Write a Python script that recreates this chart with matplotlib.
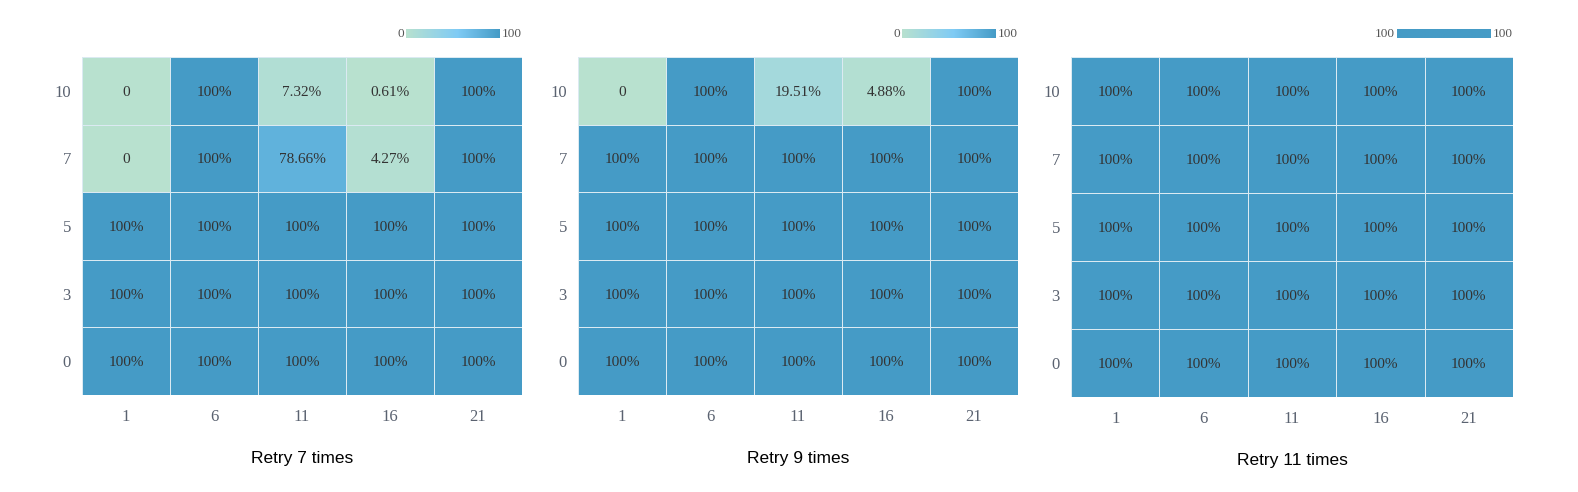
import numpy as np
import matplotlib
matplotlib.use("Agg")
import matplotlib.pyplot as plt
from matplotlib.colors import LinearSegmentedColormap, Normalize

X_LABELS = ["1", "6", "11", "16", "21"]
Y_LABELS = ["10", "7", "5", "3", "0"]  # top to bottom
TITLES = ["Retry 7 times", "Retry 9 times", "Retry 11 times"]

RETRY7 = [
    [0, 100, 7.32, 0.61, 100],
    [0, 100, 78.66, 4.27, 100],
    [100, 100, 100, 100, 100],
    [100, 100, 100, 100, 100],
    [100, 100, 100, 100, 100],
]
RETRY9 = [
    [0, 100, 19.51, 4.88, 100],
    [100, 100, 100, 100, 100],
    [100, 100, 100, 100, 100],
    [100, 100, 100, 100, 100],
    [100, 100, 100, 100, 100],
]
RETRY11 = [
    [100, 100, 100, 100, 100],
    [100, 100, 100, 100, 100],
    [100, 100, 100, 100, 100],
    [100, 100, 100, 100, 100],
    [100, 100, 100, 100, 100],
]
PANELS = [RETRY7, RETRY9, RETRY11]

cmap = LinearSegmentedColormap.from_list(
    "retry", [(0.0, "#b8e1cf"), (0.55, "#7fcbf5"), (1.0, "#459bc6")]
)
norm = Normalize(vmin=0, vmax=100)

SERIF = ["Liberation Serif", "DejaVu Serif"]
TICK_COLOR = "#5a6270"


def fmt(v):
    if v == 0:
        return "0"
    return f"{v:g}%"


fig = plt.figure(figsize=(15.78, 4.92), dpi=100)
W, H = 1578, 492
# pixel boxes: left, right, top, bottom
boxes = [(82, 522, 57, 395), (578, 1018, 57, 395), (1071, 1513, 57, 397)]

for data, title, (l, r, t, b) in zip(PANELS, TITLES, boxes):
    arr = np.array(data, dtype=float)
    ax = fig.add_axes([l / W, 1 - b / H, (r - l) / W, (b - t) / H])
    ax.pcolormesh(arr[::-1], cmap=cmap, norm=norm, edgecolors="#dbeaf2", linewidth=0.5)
    ax.set_xlim(0, arr.shape[1])
    ax.set_ylim(0, arr.shape[0])
    for i in range(arr.shape[0]):
        for j in range(arr.shape[1]):
            ax.text(j + 0.5, arr.shape[0] - 1 - i + 0.5, fmt(arr[i, j]),
                    ha="center", va="center_baseline", fontsize=11, color="#333333", family=SERIF)
    ax.set_xticks(np.arange(arr.shape[1]) + 0.5)
    ax.set_xticklabels(X_LABELS, family=SERIF, fontsize=12, color=TICK_COLOR)
    ax.set_yticks(np.arange(arr.shape[0]) + 0.5)
    ax.set_yticklabels(Y_LABELS[::-1], family=SERIF, fontsize=12, color=TICK_COLOR)
    ax.tick_params(axis="y", length=0, pad=8)
    ax.tick_params(axis="x", length=0, pad=10)
    for s in ax.spines.values():
        s.set_visible(False)
    ax.set_xlabel(title, fontsize=12.5, family=["Liberation Sans", "DejaVu Sans"], labelpad=19)

    # small colorbar above the heatmap
    lo, hi = arr.min(), arr.max()
    cax = fig.add_axes([(r - 116) / W, 1 - 38 / H, 94 / W, 9 / H])
    grad = np.linspace(lo, hi, 256).reshape(1, -1)
    cax.imshow(grad, aspect="auto", cmap=cmap, norm=norm, extent=[0, 1, 0, 1])
    cax.set_xticks([])
    cax.set_yticks([])
    for s in cax.spines.values():
        s.set_visible(False)
    cax.text(-0.02, 0.45, f"{lo:g}", ha="right", va="center", fontsize=9.5,
             color="#555555", family=SERIF, transform=cax.transAxes)
    cax.text(1.02, 0.45, f"{hi:g}", ha="left", va="center", fontsize=9.5,
             color="#555555", family=SERIF, transform=cax.transAxes)

fig.savefig("out.png", dpi=100)
